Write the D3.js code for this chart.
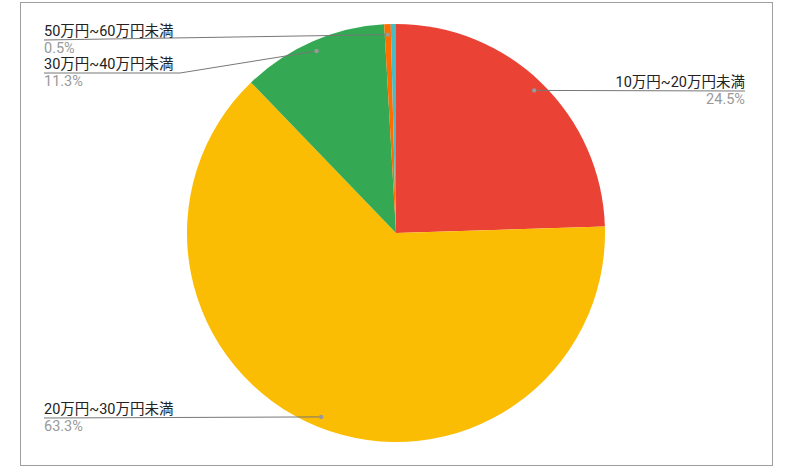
<!DOCTYPE html><html><head><meta charset="utf-8"><script src="https://cdn.jsdelivr.net/npm/d3@7"></script>
<style>body{margin:0;background:#fff}text{font-family:Roboto,"Noto Sans CJK JP",sans-serif}</style></head><body><svg width="791" height="475"></svg>
<script>
const categories=["10万円~20万円未満","20万円~30万円未満","30万円~40万円未満","50万円~60万円未満","その他"];
const values=[24.5,63.3,11.3,0.5,0.4];
const colors=["#ea4335","#fbbc04","#34a853","#ff6d01","#46bdc6"];
const showLabel=[true,true,true,true,false];
const svg=d3.select("svg");
svg.append("rect").attr("x",20.5).attr("y",2.5).attr("width",752).attr("height",463).attr("fill","#fff").attr("stroke","#9e9e9e");
const cx=396,cy=233,r=209;
const g=svg.append("g").attr("transform",`translate(${cx},${cy})`);
const pie=d3.pie().sort(null).value(d=>d)(values);
const arc=d3.arc().innerRadius(0).outerRadius(r);
g.selectAll("path").data(pie).join("path").attr("d",arc).attr("fill",(d,i)=>colors[i]);
const lay=[{side:1,y:91},{side:-1,y:418},{side:-1,y:73,elbow:180},{side:-1,y:40}];
pie.forEach((d,i)=>{
  if(!showLabel[i])return;
  const L=lay[i];const a=(d.startAngle+d.endAngle)/2;
  const px=cx+Math.sin(a)*r*0.95, py=cy-Math.cos(a)*r*0.95;
  const ex=L.side>0?745:44;
  const pts=L.elbow?[[px,py],[L.elbow,L.y],[ex,L.y]]:[[px,py],[ex,L.y]];
  svg.append("path").attr("d",d3.line()(pts)).attr("fill","none").attr("stroke","#777").attr("stroke-width",1);
  svg.append("circle").attr("cx",px).attr("cy",py).attr("r",2.2).attr("fill","#999");
  const anchor=L.side>0?"end":"start";
  svg.append("text").attr("x",ex).attr("y",L.y-4).attr("text-anchor",anchor).attr("font-size",14.5).attr("fill","#222").text(categories[i]);
  svg.append("text").attr("x",ex).attr("y",L.y+13).attr("text-anchor",anchor).attr("font-size",14.5).attr("fill","#999").text(values[i].toFixed(1)+"%");
});
</script></body></html>
